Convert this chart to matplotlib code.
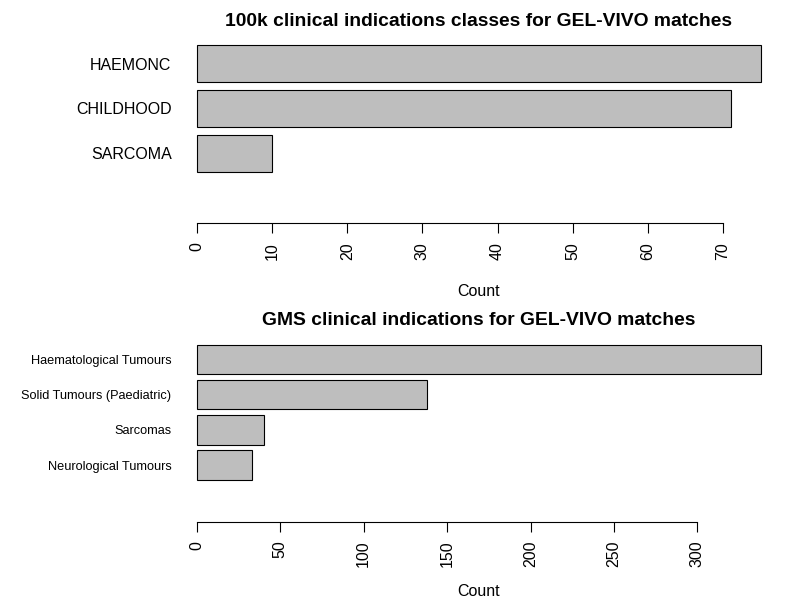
import matplotlib
matplotlib.use("Agg")
from matplotlib import pyplot as plt

plt.rcParams['font.family'] = ['Liberation Sans', 'DejaVu Sans']

# 100k panel (bottom to top, as R draws them)
cls_labels = ["SARCOMA", "CHILDHOOD", "HAEMONC"]
cls_counts = [10, 71, 75]
cls_ticks = [0, 10, 20, 30, 40, 50, 60, 70]

# GMS panel
gms_labels = ["Neurological Tumours", "Sarcomas", "Solid Tumours (Paediatric)",
              "Haematological Tumours"]
gms_counts = [33, 40, 138, 338]
gms_ticks = [0, 50, 100, 150, 200, 250, 300]

fig = plt.figure(figsize=(8, 6), dpi=100)
LEFT, WIDTH = 0.218, 0.761


def panel(rect, labels, counts, ticks, title, label_size, xlab_y):
	ax = fig.add_axes(rect)
	n = len(counts)
	ys = [0.7 + 1.2 * i for i in range(n)]
	ax.barh(ys, counts, height=1.0, color="#bebebe", edgecolor="black", linewidth=0.8)
	lo, hi = -1.0, 1.2 * n
	ext = 0.04 * (hi - lo)
	ax.set_ylim(lo - ext, hi + ext)
	mx = max(counts)
	ax.set_xlim(-0.04 * mx, mx * 1.04)
	for s in ["top", "right", "left"]:
		ax.spines[s].set_visible(False)
	ax.spines["bottom"].set_bounds(ticks[0], ticks[-1])
	ax.spines["bottom"].set_linewidth(0.8)
	ax.set_xticks(ticks)
	ax.set_xticklabels([str(t) for t in ticks], rotation=90, fontsize=11.5)
	ax.tick_params(axis="x", length=7.5, width=0.8, pad=6)
	ax.set_yticks(ys)
	ax.set_yticklabels(labels, fontsize=label_size)
	ax.tick_params(axis="y", length=0, pad=2)
	ax.set_xlabel("Count", fontsize=11.5, va="center")
	ax.xaxis.set_label_coords(LEFT + WIDTH / 2, xlab_y, transform=fig.transFigure)
	ax.set_title(title, fontsize=13.9, fontweight="bold", pad=9)
	return ax


panel([LEFT, 0.628, WIDTH, 0.308], cls_labels, cls_counts, cls_ticks,
	"100k clinical indications classes for GEL-VIVO matches", 11.5, 1 - 292 / 600)
panel([LEFT, 0.13, WIDTH, 0.307], gms_labels, gms_counts, gms_ticks,
	"GMS clinical indications for GEL-VIVO matches", 9.2, 1 - 591 / 600)

plt.savefig("out.png", dpi=100)
